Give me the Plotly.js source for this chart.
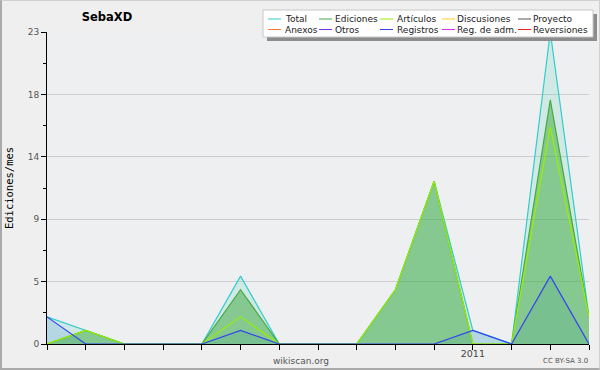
<!DOCTYPE html>
<html>
<head>
<meta charset="utf-8">
<script src="https://cdn.plot.ly/plotly-3.0.1.min.js"></script>
<style>
  html, body { margin:0; padding:0; background:#efefef; }
  #wrap { position:relative; width:600px; height:370px; }
  #chart { width:600px; height:370px; }
  #frame { position:absolute; left:0; top:0; width:600px; height:370px; box-sizing:border-box;
           border-left:2px solid #aaaaaa; border-bottom:2px solid #aaaaaa; border-top:1px solid #d0d0d0; border-right:1px solid #d0d0d0; pointer-events:none; }
</style>
</head>
<body>
<div id="wrap"><div id="chart"></div><div id="frame"></div></div>
<script>
// ---- data ----
const months = ['2010-02','2010-03','2010-04','2010-05','2010-06','2010-07','2010-08','2010-09','2010-10','2010-11','2010-12','2011-01','2011-02','2011-03','2011-04'];
const monthLabels = ['','','','','','','','','','','','2011','','',''];
const total     = [2, 1, 0, 0, 0, 5, 0, 0, 0, 4, 12, 1, 0, 23, 2];
const ediciones = [0, 1, 0, 0, 0, 4, 0, 0, 0, 4, 12, 0, 0, 18, 2];
const articulos = [0, 1, 0, 0, 0, 2, 0, 0, 0, 4, 12, 0, 0, 16, 2];
const registros = [2, 0, 0, 0, 0, 1, 0, 0, 0, 0, 0, 1, 0, 5, 0];
const yTickVals = [0, 4.6, 9.2, 13.8, 18.4, 23];
const yTickText = ['0', '5', '9', '14', '18', '23'];
const yMinorVals = [2.3, 6.9, 11.5, 16.1, 20.7];
const seriesNames  = ['Total','Ediciones','Artículos','Discusiones','Proyecto','Anexos','Otros','Registros','Reg. de adm.','Reversiones'];
const seriesColors = ['#33cccc','#44aa44','#99ee00','#ffcc22','#555555','#ff7733','#7733ee','#3344ee','#dd33ee','#ee2222'];
const chartTitle = 'SebaXD';
const yTitle = 'Ediciones/mes';

// ---- layout helpers ----
const L = 47, T = 32, W = 542, H = 312;
const px = x => (x - L) / W;
const py = y => (T + H - y) / H;
const font = 'DejaVu Sans, Verdana, sans-serif';

function fillTrace(y, color) {
  return { x: months, y: y, type: 'scatter', mode: 'lines', fill: 'tozeroy', fillcolor: color,
           line: { width: 0 }, showlegend: false, hoverinfo: 'skip' };
}
function lineTrace(name, y) {
  const c = seriesColors[seriesNames.indexOf(name)];
  return { x: months, y: y, name: name, type: 'scatter', mode: 'lines',
           line: { color: c, width: 1.2 }, showlegend: false };
}

const data = [
  fillTrace(total, 'rgba(90,210,180,0.2)'),
  fillTrace(registros, 'rgba(120,175,230,0.3)'),
  fillTrace(ediciones, 'rgba(60,170,60,0.5)'),
  lineTrace('Total', total),
  lineTrace('Ediciones', ediciones),
  lineTrace('Artículos', articulos),
  lineTrace('Registros', registros)
];

// custom legend box
const shapes = [];
const annotations = [];
const boxX0 = 263, boxX1 = 593, boxY0 = 10, boxY1 = 37;
shapes.push({ type: 'rect', xref: 'paper', yref: 'paper', x0: px(boxX0 + 4), x1: px(boxX1 + 4), y0: py(boxY0 + 4), y1: py(boxY1 + 4),
              fillcolor: '#8c8c8c', line: { width: 0 } });
shapes.push({ type: 'rect', xref: 'paper', yref: 'paper', x0: px(boxX0), x1: px(boxX1), y0: py(boxY0), y1: py(boxY1),
              fillcolor: '#ffffff', line: { color: '#c8c8c8', width: 1 } });
const colSwatch = [268, 319, 380, 442, 518];
const colText = [284, 334, 396, 456, 532];
const rowY = [19, 29.5];
seriesNames.forEach((n, i) => {
  const c = i % 5, r = Math.floor(i / 5);
  shapes.push({ type: 'line', xref: 'paper', yref: 'paper', x0: px(colSwatch[c]), x1: px(colSwatch[c] + 13),
                y0: py(rowY[r]), y1: py(rowY[r]), line: { color: seriesColors[i], width: 1 } });
  annotations.push({ xref: 'paper', yref: 'paper', x: px(colText[c]), y: py(rowY[r]), xanchor: 'left', yanchor: 'middle',
                     text: n, showarrow: false, borderpad: 0, font: { family: font, size: 9, color: '#222' } });
});
annotations.push({ xref: 'paper', yref: 'paper', x: px(301), y: py(361), xanchor: 'center', yanchor: 'middle',
                   text: 'wikiscan.org', showarrow: false, font: { family: font, size: 9, color: '#555' } });
annotations.push({ xref: 'paper', yref: 'paper', x: px(590), y: py(361), xanchor: 'right', yanchor: 'middle',
                   text: 'CC BY-SA 3.0', showarrow: false, font: { family: font, size: 7, color: '#555' } });

const layout = {
  width: 600, height: 370,
  margin: { l: L, r: 600 - L - W, t: T, b: 370 - T - H, pad: 0 },
  paper_bgcolor: '#efefef',
  plot_bgcolor: '#eeeff0',
  title: { text: chartTitle, xref: 'container', yref: 'container', x: 107 / 600, y: 1 - 17 / 370,
           xanchor: 'center', yanchor: 'middle', font: { family: font, size: 11.5, color: '#000', weight: 'bold' } },
  xaxis: {
    type: 'category', range: [0, months.length - 1],
    tickmode: 'array', tickvals: months, ticktext: monthLabels,
    ticks: 'outside', ticklen: 5, tickcolor: '#000', tickwidth: 1,
    showline: true, linecolor: '#000', linewidth: 1,
    showgrid: false, zeroline: false, ticklabelstandoff: -4,
    tickfont: { family: font, size: 9.5, color: '#444' }
  },
  yaxis: {
    range: [0, 23], tickmode: 'array', tickvals: yTickVals, ticktext: yTickText,
    ticks: 'outside', ticklen: 5, tickcolor: '#000', tickwidth: 1,
    minor: { tickmode: 'array', tickvals: yMinorVals, ticks: 'outside', ticklen: 3, tickcolor: '#000', showgrid: false },
    showline: true, linecolor: '#000', linewidth: 1,
    showgrid: true, gridcolor: '#cccccc', gridwidth: 1, zeroline: false,
    tickfont: { family: font, size: 9, color: '#555' },
    title: { text: yTitle, standoff: 12, font: { family: 'DejaVu Sans Mono, monospace', size: 10.5, color: '#000' } }
  },
  shapes: shapes,
  annotations: annotations,
  showlegend: false,
  hovermode: false
};

Plotly.newPlot('chart', data, layout, { displayModeBar: false, staticPlot: true });
</script>
</body>
</html>
